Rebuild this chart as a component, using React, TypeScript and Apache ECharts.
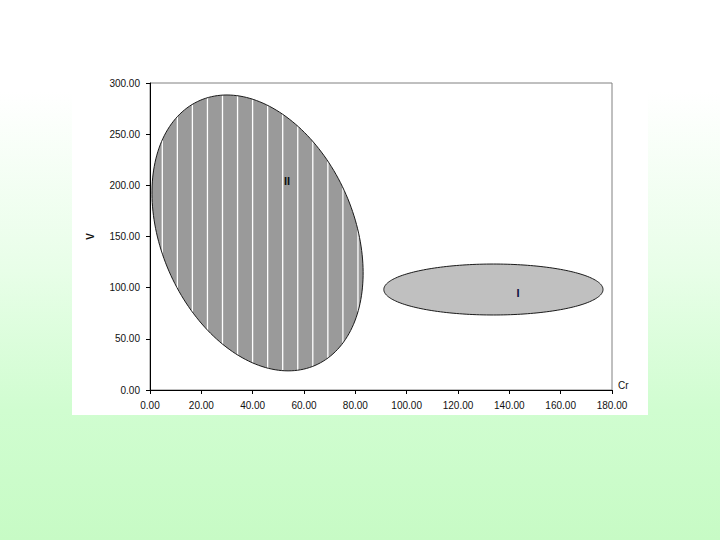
import React, { useEffect, useRef } from "react";
import * as echarts from "echarts";

// Axis ticks
const xMin = 0, xMax = 180, xStep = 20;
const yMin = 0, yMax = 300, yStep = 50;

// Ellipses (data units): name, centre, two conjugate half-diameters
const ellipseNames = ["II", "I"];
const centerCr = [41.9, 133.8];
const centerV = [153.5, 98.2];
const halfAxisU = [[22.4, -129.5], [42.7, 0]];
const halfAxisV = [[-34.5, -37.4], [0, 24.9]];
const labelCr = [53.4, 143.4];
const labelV = [204.3, 94.8];
const fillColors = ["#9a9a9a", "#c0c0c0"];
const striped = [true, false];
const labelColors = ["#111111", "#101040"];

export default function App() {
  const ref = useRef<HTMLDivElement>(null);
  useEffect(() => {
    const chart = echarts.init(ref.current!, undefined, { renderer: "svg" });
    const data = ellipseNames.map((n, i) => [
      centerCr[i], centerV[i],
      halfAxisU[i][0], halfAxisU[i][1],
      halfAxisV[i][0], halfAxisV[i][1],
      labelCr[i], labelV[i],
    ]);
    const renderItem = (params: any, api: any) => {
      const i = params.dataIndex;
      const cx = api.value(0), cy = api.value(1);
      const ux = api.value(2), uy = api.value(3);
      const vx = api.value(4), vy = api.value(5);
      const pts: number[][] = [];
      const N = 200;
      for (let k = 0; k < N; k++) {
        const t = (k / N) * Math.PI * 2;
        const c = Math.cos(t), s = Math.sin(t);
        pts.push(api.coord([cx + ux * c + vx * s, cy + uy * c + vy * s]));
      }
      const children: any[] = [
        { type: "polygon", shape: { points: pts }, style: { fill: fillColors[i], stroke: "none" } },
      ];
      if (striped[i]) {
        const left = api.coord([xMin, yMin])[0];
        for (let k = 0; k < 40; k++) {
          const xs = left + 12.3 + k * 15.05;
          let lo = Infinity, hi = -Infinity;
          for (let j = 0; j < pts.length; j++) {
            const a = pts[j], b = pts[(j + 1) % pts.length];
            if ((a[0] - xs) * (b[0] - xs) <= 0 && a[0] !== b[0]) {
              const y = a[1] + ((xs - a[0]) / (b[0] - a[0])) * (b[1] - a[1]);
              lo = Math.min(lo, y);
              hi = Math.max(hi, y);
            }
          }
          if (hi > lo) {
            children.push({
              type: "line",
              shape: { x1: xs, y1: lo, x2: xs, y2: hi },
              style: { stroke: "#ffffff", lineWidth: 1.3 },
            });
          }
        }
      }
      children.push({
        type: "polygon",
        shape: { points: pts },
        style: { fill: "none", stroke: "#1a1a1a", lineWidth: 1 },
      });
      const lp = api.coord([api.value(6), api.value(7)]);
      children.push({
        type: "text",
        x: lp[0],
        y: lp[1],
        style: {
          text: ellipseNames[i],
          fill: labelColors[i],
          font: "bold 11px 'Liberation Sans', Arial, sans-serif",
          align: "center",
          verticalAlign: "middle",
          textAlign: "center",
          textVerticalAlign: "middle",
        },
      });
      return { type: "group", children };
    };
    const labelStyle = {
      color: "#111111",
      fontSize: 10,
      fontFamily: "'Liberation Sans', Arial, sans-serif",
    };
    chart.setOption({
      animation: false,
      backgroundColor: {
        type: "linear", x: 0, y: 0, x2: 0, y2: 1,
        colorStops: [
          { offset: 0, color: "#ffffff" },
          { offset: 0.17, color: "#ffffff" },
          { offset: 0.5, color: "#e8fee8" },
          { offset: 0.76, color: "#d0fdd0" },
          { offset: 1, color: "#c7fbc5" },
        ],
      },
      graphic: [
        { type: "rect", z: -10, shape: { x: 72, y: 60, width: 576, height: 355 }, style: { fill: "#ffffff" }, silent: true },
      ],
      grid: {
        left: 150, right: 108, top: 83, bottom: 150,
        show: true, borderColor: "#808080", borderWidth: 1, backgroundColor: "#ffffff",
      },
      xAxis: {
        type: "value", min: xMin, max: xMax, interval: xStep,
        name: "Cr", nameLocation: "end", nameGap: 6,
        nameTextStyle: { ...labelStyle, align: "left", verticalAlign: "bottom" },
        axisLine: { show: true, lineStyle: { color: "#000000", width: 1 } },
        axisTick: { show: true, length: 4, lineStyle: { color: "#000000" } },
        axisLabel: { ...labelStyle, margin: 10, formatter: (v: number) => v.toFixed(2) },
        splitLine: { show: false },
      },
      yAxis: {
        type: "value", min: yMin, max: yMax, interval: yStep,
        name: "V", nameLocation: "middle", nameGap: 55, nameRotate: 90,
        nameTextStyle: { ...labelStyle, fontWeight: "bold" },
        axisLine: { show: true, lineStyle: { color: "#000000", width: 1 } },
        axisTick: { show: true, length: 4, lineStyle: { color: "#000000" } },
        axisLabel: { ...labelStyle, margin: 10, formatter: (v: number) => v.toFixed(2) },
        splitLine: { show: false },
      },
      series: [
        {
          type: "custom",
          renderItem,
          clip: false,
          encode: { x: 0, y: 1 },
          data,
        },
      ],
    });
    return () => chart.dispose();
  }, []);
  return (
    <div
      ref={ref}
      style={{ position: "fixed", left: 0, top: 0, width: 720, height: 540 }}
    />
  );
}
